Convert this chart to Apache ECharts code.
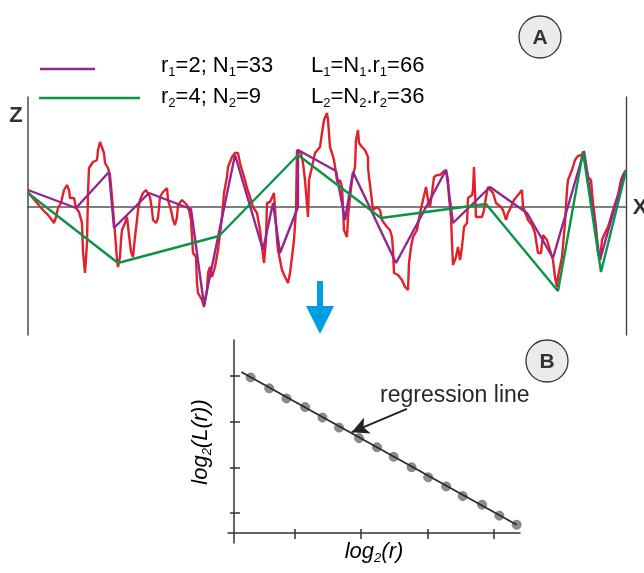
<!DOCTYPE html>
<html>
<head>
<meta charset="utf-8">
<script src="https://cdn.jsdelivr.net/npm/echarts@6/dist/echarts.min.js"></script>
<style>
  html, body { margin: 0; padding: 0; background: #fff; }
  #chart { width: 644px; height: 573px; }
</style>
</head>
<body>
<div id="chart"></div>
<script>
// profile (A): distance along X, height Z (0 = X axis)
var profile = [
  [0,15],[4,10],[9,4],[15,-3],[20,-8],[24,-13],[26,-16],[28,-10],[30,-1],[33,4],[36,17],[39,22],[41,17],[42,9],[46,9],[48,-1],[51,-5],[54,-16],[55,-45],[56,-46],[57,-66],[59,-36],[60,14],[61,39],[65,45],[69,47],[70,57],[72,65],[74,67],[76,54],[77,44],[80,39],[82,32],[84,10],[87,-26],[89,-53],[90,-60],[92,-50],[93,-33],[94,-23],[97,-16],[99,-10],
  [101,-28],[103,-45],[105,-50],[107,-30],[109,-13],[110,-3],[112,7],[115,14],[118,17],[120,15],[122,10],[124,-3],[125,-13],[128,-16],[130,-11],[132,10],[135,15],[139,19],[140,7],[143,-3],[145,-13],[147,-18],[149,-10],[150,2],[154,7],[156,7],[159,2],[161,-3],[163,-13],[165,-46],[168,-50],[169,-76],[170,-86],[174,-93],[176,-100],[179,-83],[180,-66],[182,-60],[184,-70],[187,-60],[190,-43],[194,-10],[196,14],[199,30],
  [200,40],[204,50],[207,54],[210,54],[212,44],[214,37],[217,27],[219,19],[221,17],[223,7],[225,0],[229,-6],[232,-23],[234,-40],[236,-56],[238,-33],[239,4],[242,5],[244,4],[246,14],[248,14],[249,-33],[250,-43],[252,-53],[254,-63],[257,-70],[260,-76],[262,-66],[264,-50],[266,-33],[268,-3],[269,57],[271,59],[273,54],[275,44],[277,27],[279,25],[280,-10],[281,27],[284,40],[287,54],[292,60],[294,74],[296,87],[299,94],
  [300,87],[302,60],[304,54],[306,47],[309,27],[310,24],[312,27],[314,20],[315,0],[316,-23],[319,-30],[320,-10],[322,10],[324,27],[327,40],[328,67],[330,77],[331,64],[334,60],[337,57],[340,50],[340,40],[341,30],[343,14],[345,-3],[349,0],[352,-3],[354,-13],[356,-16],[359,-20],[362,-23],[364,-30],[365,-43],[366,-66],[370,-68],[374,-73],[377,-80],[380,-83],[381,-56],[383,-40],[385,-30],[389,-23],[392,-6],[395,7],[398,20],
  [400,7],[402,0],[404,14],[406,30],[409,32],[412,32],[415,35],[418,37],[420,27],[421,10],[423,-10],[424,-36],[425,-58],[428,-50],[430,-40],[432,-53],[434,-40],[436,-20],[439,-16],[440,9],[444,12],[445,17],[446,40],[447,14],[448,-10],[451,-10],[454,-10],[456,-3],[458,10],[460,20],[462,22],[465,14],[468,4],[470,2],[473,0],[475,-3],[478,-13],[480,-6],[483,0],[486,7],[490,12],[494,17],[495,0],[499,-10],
  [500,-13],[504,-18],[507,-26],[510,-46],[513,-46],[515,-28],[519,-33],[522,-43],[525,-53],[527,-70],[529,-80],[530,-70],[534,-50],[537,-16],[539,17],[540,27],[544,37],[547,47],[550,51],[554,52],[555,55],[557,47],[560,30],[563,27],[565,4],[568,-20],[570,-46],[572,-53],[574,-33],[577,-26],[580,-20],[583,-10],[586,0],[590,12],[593,27],[595,32],[598,37]
];
// divider walk with r1 = 2
var walkR1 = [
  [0,17],[48,-1],[81,35],[86,-21],[121,14],[163,-2],[176,-98],[207,52],[235,-43],[245,4],[252,-46],[270,0],[270,57],
  [308,36],[317,-13],[325,35],[368,-56],[418,37],[425,-16],[462,20],[499,-6],[525,-51],[556,56],[572,-53],[597,36]
];
// divider walk with r2 = 4
var walkR2 = [
  [0,14],[90,-56],[191,-29],[270,52],[353,-11],[458,3],[530,-84],[555,55],[573,-65],[598,36]
];

// (B) log2(r) vs log2(L(r))
var logR = [0.34,0.62,0.88,1.16,1.42,1.67,1.97,2.24,2.49,2.76,3.01,3.28,3.53,3.82,4.08,4.34];
var logL = [3.97,3.73,3.51,3.32,3.09,2.87,2.64,2.44,2.23,2.00,1.78,1.58,1.37,1.18,0.94,0.74];
var regLine = [[0.20,4.09],[4.34,0.74]];
var xTicks = [1,2,3,4];
var yTicks = [1,2,3,4];
var arrowFrom = [2.69,3.28];
var arrowTo = [1.86,2.77];

var chart = echarts.init(document.getElementById('chart'));

var FONT = '"Liberation Sans", Arial, sans-serif';
var TXT = '#262626';
var norm = { fontSize: 22, fontFamily: FONT, color: TXT, lineHeight: 26 };
var sub = { fontSize: 13, fontFamily: FONT, color: TXT, lineHeight: 13, verticalAlign: 'bottom' };
var normI = { fontSize: 22, fontFamily: FONT, fontStyle: 'italic', color: TXT, lineHeight: 26 };
var subI = { fontSize: 13, fontFamily: FONT, fontStyle: 'italic', color: TXT, lineHeight: 13, verticalAlign: 'bottom' };

var scatterData = logR.map(function (v, i) { return [v, logL[i]]; });

var hidden = { axisLabel: { show: false }, splitLine: { show: false } };
function bAxis(extra) {
  return Object.assign({ gridIndex: 1, type: 'value', axisLabel: { show: false }, splitLine: { show: false } }, extra);
}

var option = {
  animation: false,
  backgroundColor: '#fff',
  grid: [
    { left: 28, right: 18, top: 97, bottom: 238, outerBoundsMode: 'none' },
    { left: 228, right: 124, top: 340, bottom: 30, outerBoundsMode: 'none' }
  ],
  xAxis: [
    {
      gridIndex: 0, type: 'value', min: 0, max: 598,
      axisLine: { show: true, onZero: true, lineStyle: { color: '#555', width: 1.6 } },
      axisTick: { show: false }, axisLabel: { show: false }, splitLine: { show: false }
    },
    bAxis({
      position: 'bottom', min: 0, max: 4.39, offset: -10,
      axisLine: { show: true, onZero: false, lineStyle: { color: '#333', width: 1.5 } },
      axisTick: { show: true, length: 6, customValues: xTicks, lineStyle: { color: '#333', width: 1.5 } }
    }),
    bAxis({
      position: 'bottom', min: 0, max: 4.39, offset: -10,
      axisLine: { show: false, onZero: false },
      axisTick: { show: true, inside: true, length: 4, customValues: xTicks, lineStyle: { color: '#333', width: 1.5 } }
    })
  ],
  yAxis: [
    {
      gridIndex: 0, type: 'value', min: -128, max: 110,
      axisLine: { show: true, onZero: false, lineStyle: { color: '#555', width: 1.6 } },
      axisTick: { show: false }, axisLabel: { show: false }, splitLine: { show: false }
    },
    {
      gridIndex: 0, type: 'value', position: 'right', min: -128, max: 110,
      axisLine: { show: true, onZero: false, lineStyle: { color: '#444', width: 1.4 } },
      axisTick: { show: false }, axisLabel: { show: false }, splitLine: { show: false }
    },
    bAxis({
      position: 'left', min: 0.34, max: 4.79, offset: -6,
      axisLine: { show: true, onZero: false, lineStyle: { color: '#333', width: 1.5 } },
      axisTick: { show: true, length: 4, customValues: yTicks, lineStyle: { color: '#333', width: 1.5 } }
    }),
    bAxis({
      position: 'left', min: 0.34, max: 4.79, offset: -6,
      axisLine: { show: false, onZero: false },
      axisTick: { show: true, inside: true, length: 6, customValues: yTicks, lineStyle: { color: '#333', width: 1.5 } }
    })
  ],
  series: [
    {
      name: 'profile', type: 'line', xAxisIndex: 0, yAxisIndex: 0,
      data: profile, showSymbol: false, silent: true,
      lineStyle: { color: '#e3202a', width: 2.4 }
    },
    {
      name: 'r1', type: 'line', xAxisIndex: 0, yAxisIndex: 0,
      data: walkR1, showSymbol: false, silent: true,
      lineStyle: { color: '#93278f', width: 2.4 }
    },
    {
      name: 'r2', type: 'line', xAxisIndex: 0, yAxisIndex: 0,
      data: walkR2, showSymbol: false, silent: true,
      lineStyle: { color: '#0a9445', width: 2.4 }
    },
    {
      name: 'regression', type: 'line', xAxisIndex: 1, yAxisIndex: 2,
      data: regLine, showSymbol: false, silent: true,
      lineStyle: { color: '#2b2b2b', width: 1.8 },
      markLine: {
        silent: true, symbol: ['none', 'arrow'], symbolSize: [13, 17],
        label: { show: false },
        lineStyle: { color: '#222', width: 2, type: 'solid' },
        data: [[{ coord: arrowFrom }, { coord: arrowTo }]]
      }
    },
    {
      name: 'points', type: 'scatter', xAxisIndex: 1, yAxisIndex: 2,
      data: scatterData, symbolSize: 9, silent: true,
      itemStyle: { color: '#8e8e8e', borderColor: '#707070', borderWidth: 0.8, opacity: 1 }
    }
  ],
  graphic: [
    // circle labels
    { type: 'circle', shape: { cx: 540, cy: 37, r: 21 }, style: { fill: '#ebebeb', stroke: '#333', lineWidth: 1.3 } },
    { type: 'text', x: 540, y: 38, style: { text: 'A', fontSize: 21, fontWeight: 'bold', fontFamily: FONT, fill: '#333', align: 'center', verticalAlign: 'middle' } },
    { type: 'circle', shape: { cx: 547, cy: 361, r: 21 }, style: { fill: '#ebebeb', stroke: '#333', lineWidth: 1.3 } },
    { type: 'text', x: 547, y: 362, style: { text: 'B', fontSize: 21, fontWeight: 'bold', fontFamily: FONT, fill: '#333', align: 'center', verticalAlign: 'middle' } },
    // axis letters
    { type: 'text', x: 16, y: 116, style: { text: 'Z', fontSize: 22, fontWeight: 'bold', fontFamily: FONT, fill: '#333', align: 'center', verticalAlign: 'middle' } },
    { type: 'text', x: 640, y: 208, style: { text: 'X', fontSize: 22, fontWeight: 'bold', fontFamily: FONT, fill: '#333', align: 'center', verticalAlign: 'middle' } },
    // legend
    { type: 'line', shape: { x1: 40, y1: 69, x2: 95, y2: 69 }, style: { stroke: '#93278f', lineWidth: 2.4 } },
    { type: 'line', shape: { x1: 39, y1: 98, x2: 140, y2: 98 }, style: { stroke: '#0a9445', lineWidth: 2.4 } },
    { type: 'text', x: 161, y: 66, style: { text: '{n|r}{s|1}{n|=2; N}{s|1}{n|=33}', rich: { n: norm, s: sub }, align: 'left', verticalAlign: 'middle' } },
    { type: 'text', x: 311, y: 66, style: { text: '{n|L}{s|1}{n|=N}{s|1}{n|.r}{s|1}{n|=66}', rich: { n: norm, s: sub }, align: 'left', verticalAlign: 'middle' } },
    { type: 'text', x: 161, y: 97, style: { text: '{n|r}{s|2}{n|=4; N}{s|2}{n|=9}', rich: { n: norm, s: sub }, align: 'left', verticalAlign: 'middle' } },
    { type: 'text', x: 311, y: 97, style: { text: '{n|L}{s|2}{n|=N}{s|2}{n|.r}{s|2}{n|=36}', rich: { n: norm, s: sub }, align: 'left', verticalAlign: 'middle' } },
    // blue arrow between panels
    { type: 'polygon', shape: { points: [[317, 281], [323, 281], [323, 306], [334, 306], [320, 334], [306, 306], [317, 306]] }, style: { fill: '#009fe3' } },
    // panel B texts
    { type: 'text', x: 380, y: 396, style: { text: 'regression line', fontSize: 23, fontFamily: FONT, fill: TXT, align: 'left', verticalAlign: 'middle' } },
    { type: 'text', x: 374, y: 552, style: { text: '{n|log}{s|2}{n|(r)}', rich: { n: normI, s: subI }, align: 'center', verticalAlign: 'middle' } },
    { type: 'text', x: 201, y: 442, rotation: Math.PI / 2, style: { text: '{n|log}{s|2}{n|(L(r))}', rich: { n: normI, s: subI }, align: 'center', verticalAlign: 'middle' } }
  ]
};

chart.setOption(option);
</script>
</body>
</html>
